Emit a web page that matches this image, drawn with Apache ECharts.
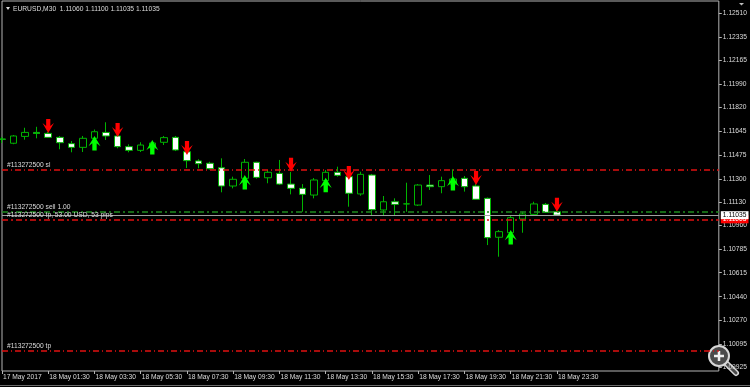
<!DOCTYPE html>
<html><head><meta charset="utf-8">
<script src="https://cdn.jsdelivr.net/npm/echarts@6/dist/echarts.min.js"></script>
<style>html,body{margin:0;padding:0;background:#000;}#c{width:750px;height:387px;}</style>
</head><body><div id="c"></div>
<script>
// ---- data ----
var symbolName = 'EURUSD,M30';
var times = ['17 May 23:30','18 May 00:00','18 May 00:30','18 May 01:00','18 May 01:30','18 May 02:00','18 May 02:30','18 May 03:00','18 May 03:30','18 May 04:00','18 May 04:30','18 May 05:00','18 May 05:30','18 May 06:00','18 May 06:30','18 May 07:00','18 May 07:30','18 May 08:00','18 May 08:30','18 May 09:00','18 May 09:30','18 May 10:00','18 May 10:30','18 May 11:00','18 May 11:30','18 May 12:00','18 May 12:30','18 May 13:00','18 May 13:30','18 May 14:00','18 May 14:30','18 May 15:00','18 May 15:30','18 May 16:00','18 May 16:30','18 May 17:00','18 May 17:30','18 May 18:00','18 May 18:30','18 May 19:00','18 May 19:30','18 May 20:00','18 May 20:30','18 May 21:00','18 May 21:30','18 May 22:00','18 May 22:30','18 May 23:00','18 May 23:30'];
var futureSlots = 14;
var xTickLabels = ['17 May 2017','18 May 01:30','18 May 03:30','18 May 05:30','18 May 07:30','18 May 09:30','18 May 11:30','18 May 13:30','18 May 15:30','18 May 17:30','18 May 19:30','18 May 21:30','18 May 23:30'];
var yTickLabels = [1.12510,1.12335,1.12165,1.11990,1.11820,1.11645,1.11475,1.11300,1.11130,1.10960,1.10785,1.10615,1.10440,1.10270,1.10095,1.09925];

var opens  = [1.11591,1.11560,1.11610,1.11639,1.11632,1.11603,1.11557,1.11530,1.11596,1.11639,1.11613,1.11535,1.11508,1.11525,1.11567,1.11603,1.11498,1.11431,1.11414,1.11381,1.11248,1.11304,1.11421,1.11308,1.11340,1.11262,1.11231,1.11182,1.11287,1.11348,1.11316,1.11190,1.11328,1.11073,1.11133,1.11117,1.11109,1.11255,1.11243,1.11262,1.11304,1.11248,1.11158,1.10874,1.10907,1.11007,1.11041,1.11114,1.11060];
var highs  = [1.11606,1.11620,1.11673,1.11680,1.11642,1.11613,1.11576,1.11613,1.11660,1.11713,1.11627,1.11552,1.11567,1.11576,1.11613,1.11613,1.11503,1.11443,1.11425,1.11450,1.11316,1.11445,1.11425,1.11365,1.11438,1.11350,1.11262,1.11306,1.11365,1.11389,1.11350,1.11352,1.11336,1.11175,1.11158,1.11272,1.11262,1.11328,1.11316,1.11370,1.11321,1.11262,1.11164,1.10927,1.11036,1.11060,1.11133,1.11124,1.11100];
var lows   = [1.11562,1.11553,1.11586,1.11596,1.11598,1.11516,1.11494,1.11496,1.11584,1.11584,1.11523,1.11494,1.11496,1.11511,1.11547,1.11503,1.11379,1.11377,1.11368,1.11202,1.11231,1.11292,1.11302,1.11268,1.11255,1.11187,1.11060,1.11158,1.11277,1.11316,1.11097,1.11177,1.11029,1.11036,1.11036,1.11060,1.11102,1.11219,1.11195,1.11241,1.11207,1.11146,1.10817,1.10732,1.10898,1.10907,1.11036,1.11051,1.11035];
var closes = [1.11589,1.11613,1.11639,1.11631,1.11603,1.11564,1.11530,1.11596,1.11644,1.11613,1.11535,1.11508,1.11547,1.11562,1.11601,1.11511,1.11433,1.11411,1.11374,1.11248,1.11297,1.11421,1.11311,1.11348,1.11262,1.11231,1.11187,1.11292,1.11348,1.11326,1.11195,1.11333,1.11075,1.11133,1.11114,1.11118,1.11255,1.11243,1.11287,1.11299,1.11243,1.11151,1.10871,1.10915,1.11017,1.11044,1.11117,1.11056,1.11035];

var sellIdx   = [4,10,16,25,30,41,48];
var sellPrice = [1.11635,1.11605,1.11474,1.11352,1.11292,1.11255,1.11060];
var buyIdx    = [8,13,21,28,39,44];
var buyPrice  = [1.11613,1.11584,1.11328,1.11309,1.11321,1.10927];

var ticket = '#113272500';
var slLevel = 1.11370;
var entryLevel = 1.11060;
var bidLevel = 1.11035;
var tpPreviewLevel = 1.11005;
var tpLevel = 1.10044;
var tpPreviewText = 'tp, 53.00 USD, 53 pips';
var lotText = 'sell 1.00';

// ---- build ----
var cats = times.slice();
for (var k = 0; k < futureSlots; k++) cats.push('');
var candles = opens.map(function (o, i) { return [o, closes[i], lows[i], highs[i]]; });
var sells = sellIdx.map(function (ix, i) { return [ix, sellPrice[i]]; });
var buys = buyIdx.map(function (ix, i) { return [ix, buyPrice[i]]; });
var last = opens.length - 1;
var header = symbolName + '  ' + [opens[last], highs[last], lows[last], closes[last]].map(function (v) { return v.toFixed(5); }).join(' ');

var FF = 'Liberation Sans';
var FS = 6.7;
var TXT = '#dcdcdc';
var FRAME = '#b4b4b4';
var RED = '#e01010';

var downArrow = 'path://M3.5,0 L7.5,0 L7.5,7 L11,4 L5.5,14 L0,4 L3.5,7 Z';
var upArrow = 'path://M3.5,14 L7.5,14 L7.5,7 L11,10 L5.5,0 L0,10 L3.5,7 Z';

function lvlLabel(text) {
  return { show: true, formatter: text, position: 'insideStartTop', color: TXT, fontSize: FS, fontFamily: FF, distance: [5, 1] };
}
function tagLabel(bg, fg) {
  return { show: true, position: 'end', formatter: function (p) { return Number(p.value).toFixed(5); }, backgroundColor: bg, color: fg, fontSize: FS, fontFamily: FF, padding: [1, 2, 0, 2], distance: 2, opacity: 1 };
}

var chart = echarts.init(document.getElementById('c'), null, { renderer: 'canvas' });
chart.setOption({
  backgroundColor: '#000000',
  animation: false,
  grid: { left: 2, right: 31, top: 1, bottom: 16, show: true, borderColor: FRAME, borderWidth: 1, backgroundColor: 'transparent' },
  xAxis: {
    type: 'category', data: cats, boundaryGap: false,
    axisLine: { show: false },
    axisTick: { show: true, length: 3, lineStyle: { color: FRAME }, interval: function (i, v) { return v !== '' && i % 4 === 0; } },
    axisLabel: {
      interval: function (i, v) { return v !== '' && i % 4 === 0; },
      formatter: function (v, i) { return xTickLabels[Math.round(i / 4)] || ''; },
      align: 'left', color: TXT, fontSize: FS, fontFamily: FF, margin: 3, padding: [0, 0, 0, 1]
    },
    splitLine: { show: false }
  },
  yAxis: {
    type: 'value', position: 'right', min: 1.09898, max: 1.12598, scale: true,
    axisLine: { show: false },
    axisTick: { show: true, length: 3, customValues: yTickLabels, lineStyle: { color: FRAME } },
    axisLabel: { customValues: yTickLabels, formatter: function (v) { return v.toFixed(5); }, color: TXT, fontSize: FS, fontFamily: FF, margin: 4 },
    splitLine: { show: false }
  },
  graphic: [
    { type: 'polygon', shape: { points: [[6, 7], [10, 7], [8, 10]] }, style: { fill: TXT } },
    { type: 'text', x: 13, y: 9, style: { text: header, fill: TXT, font: FS + 'px ' + FF, textVerticalAlign: 'middle' } },
    { type: 'polygon', shape: { points: [[739, 3], [744, 3], [741.5, 5.5]] }, style: { fill: '#bdbdbd' } },
    { type: 'line', shape: { x1: 0, y1: 385.5, x2: 750, y2: 385.5 }, style: { stroke: '#6a6a6a', lineWidth: 1 } },
    { type: 'group', children: [
      { type: 'line', shape: { x1: 727, y1: 364, x2: 736, y2: 373 }, style: { stroke: '#d8d8d8', lineWidth: 6, lineCap: 'round' } },
      { type: 'line', shape: { x1: 727, y1: 364, x2: 736, y2: 373 }, style: { stroke: '#4a4a4a', lineWidth: 3, lineCap: 'round' } },
      { type: 'circle', shape: { cx: 719, cy: 356, r: 10 }, style: { fill: '#4a4a4a', stroke: '#d8d8d8', lineWidth: 2 } },
      { type: 'line', shape: { x1: 714, y1: 356, x2: 724, y2: 356 }, style: { stroke: '#f0f0f0', lineWidth: 2.5 } },
      { type: 'line', shape: { x1: 719, y1: 351, x2: 719, y2: 361 }, style: { stroke: '#f0f0f0', lineWidth: 2.5 } }
    ] }
  ],
  series: [
    {
      type: 'candlestick', data: candles, barWidth: 7, clip: false,
      itemStyle: { color: '#000000', color0: '#ffffff', borderColor: '#00b400', borderColor0: '#00b400', borderWidth: 1 },
      markLine: {
        symbol: ['none', 'none'], silent: true, animation: false, precision: 5,
        data: [
          { yAxis: slLevel, lineStyle: { color: RED, type: [6, 3, 1, 3], width: 1.5, opacity: 1 }, label: lvlLabel(ticket + ' sl') },
          { yAxis: entryLevel, lineStyle: { color: '#1e8c1e', type: [6, 3, 2, 3], width: 1.5, opacity: 1 }, label: lvlLabel(ticket + ' ' + lotText) },
          { yAxis: tpPreviewLevel, lineStyle: { color: RED, type: [6, 3, 2, 3], width: 1.5, opacity: 1 }, label: lvlLabel(ticket + ' ' + tpPreviewText) },
          { yAxis: tpPreviewLevel, lineStyle: { color: 'rgba(0,0,0,0)', width: 0.1, opacity: 1 }, label: tagLabel('#ff0000', '#ffffff') },
          { yAxis: tpLevel, lineStyle: { color: RED, type: [6, 3, 1, 3], width: 1.5, opacity: 1 }, label: lvlLabel(ticket + ' tp') },
          { yAxis: bidLevel, lineStyle: { color: '#a0a0a0', type: 'solid', width: 1.2, opacity: 1 }, label: tagLabel('#ffffff', '#000000') }
        ]
      }
    },
    { type: 'scatter', data: sells, symbol: downArrow, symbolSize: [11.5, 14], symbolOffset: [0, '-50%'], itemStyle: { color: '#ff0000', opacity: 1 }, z: 6, clip: false },
    { type: 'scatter', data: buys, symbol: upArrow, symbolSize: [12, 14.5], symbolOffset: [0, '50%'], itemStyle: { color: '#00ff00', opacity: 1 }, z: 6, clip: false }
  ]
});
</script></body></html>
